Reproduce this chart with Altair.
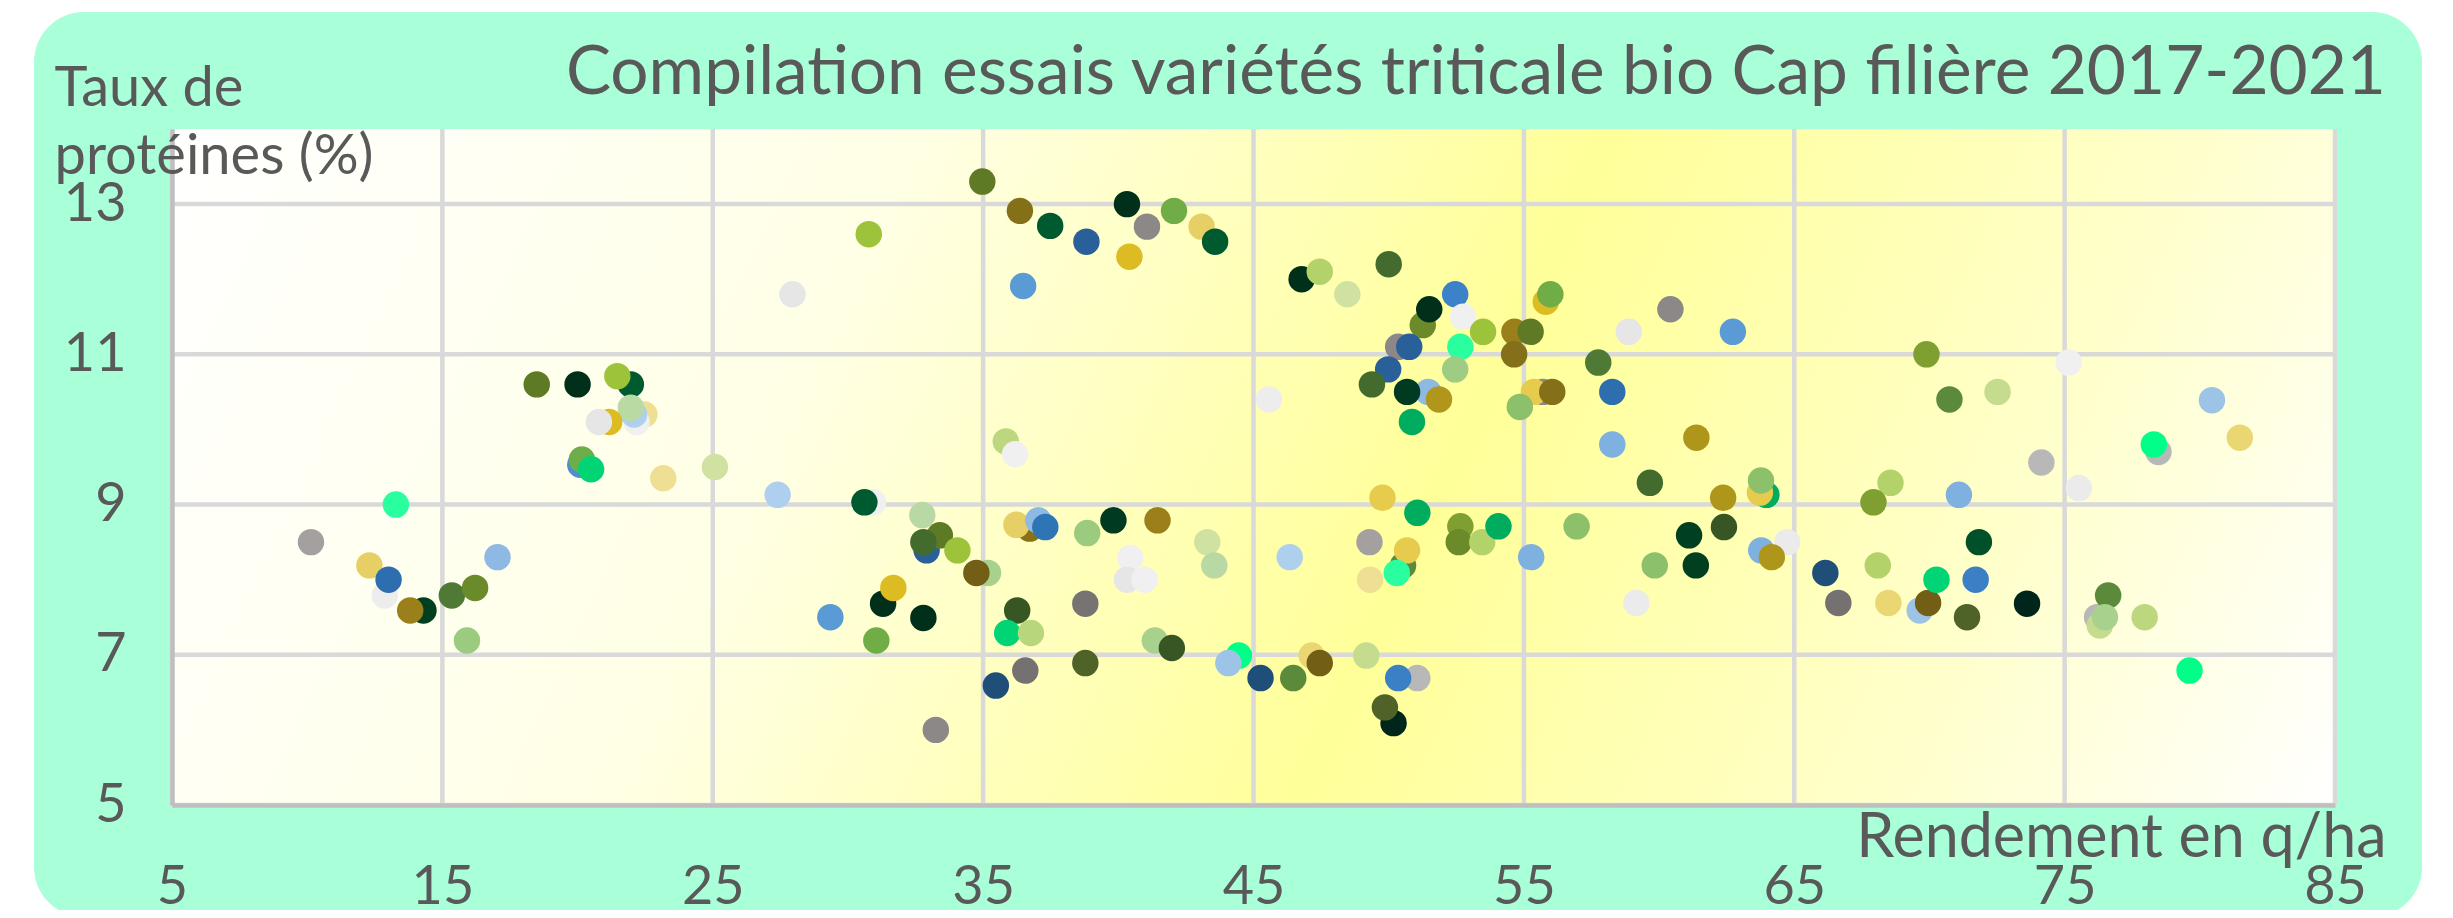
import altair as alt
import pandas as pd

# ---------------- data ----------------
rendement = [
    10.14, 13.28, 12.30, 12.87, 13.01, 14.30, 13.81, 15.35, 16.21, 15.91, 17.04,
    18.49, 20.00, 21.97, 21.47, 22.47, 22.18, 22.09, 21.97, 21.17, 20.79, 20.10, 20.16, 20.50,
    23.17, 25.08, 27.40, 27.95, 30.77, 30.93, 30.61,
    31.30, 31.68, 29.35, 31.05, 32.75, 32.91, 33.40, 32.79, 32.79, 34.05, 35.18, 34.75,
    36.72, 36.23, 37.04, 37.30, 38.85, 39.82, 41.45, 43.29, 43.55, 40.44, 40.32, 40.97,
    38.78, 36.26, 35.89, 36.77, 41.35, 41.98, 44.46, 44.07, 38.78, 36.56, 35.47, 33.25,
    34.97, 36.36, 37.48, 38.82, 40.32, 40.41, 41.06, 42.06, 43.08, 43.58, 36.48, 35.84, 36.18,
    46.78, 47.45, 48.47, 50.00, 51.26, 51.50, 52.46, 52.75, 53.49, 50.35, 50.76, 52.65,
    49.98, 49.38, 52.46, 51.46, 50.68, 51.86, 50.86, 45.57, 54.65, 55.25, 54.64, 55.81, 55.98,
    55.70, 55.37, 56.05, 54.85, 57.75, 58.27, 58.27, 58.88, 60.42, 62.73, 61.38,
    69.89, 70.74, 72.52, 75.15, 74.14, 80.45, 81.48, 78.47, 78.30, 75.53,
    71.83, 71.71, 73.61, 71.39, 76.20, 76.30, 76.61, 76.49, 77.96, 79.62,
    59.66, 62.37, 63.97, 63.73, 63.77, 61.11, 62.40, 61.36, 59.84, 59.16, 63.78, 64.74, 64.17,
    66.15, 66.63, 68.09, 68.56, 67.93, 68.48, 69.64, 69.95, 70.26, 71.09,
    45.26, 46.47, 47.15, 47.45, 49.17, 51.06, 50.35, 50.18, 49.86,
    46.34, 49.77, 51.06, 49.29, 50.53, 50.68, 50.30, 49.31, 52.65, 52.59, 53.46, 54.06, 55.27, 56.95,
]
proteines = [
    8.50, 9.00, 8.19, 7.79, 8.00, 7.59, 7.59, 7.79, 7.89, 7.19, 8.30,
    10.60, 10.60, 10.60, 10.71, 10.20, 10.10, 10.20, 10.29, 10.10, 10.10, 9.53, 9.60, 9.47,
    9.35, 9.50, 9.13, 11.80, 12.60, 9.03, 9.03,
    7.68, 7.89, 7.50, 7.19, 8.86, 8.39, 8.59, 8.50, 7.49, 8.39, 8.09, 8.09,
    8.68, 8.73, 8.79, 8.70, 8.62, 8.79, 8.79, 8.50, 8.19, 8.29, 8.00, 8.00,
    7.68, 7.59, 7.29, 7.29, 7.19, 7.09, 6.99, 6.89, 6.89, 6.79, 6.59, 6.00,
    13.30, 12.91, 12.71, 12.50, 13.00, 12.30, 12.70, 12.91, 12.70, 12.50, 11.91, 9.84, 9.67,
    12.00, 12.10, 11.80, 12.20, 11.39, 11.60, 11.80, 11.50, 11.30, 11.10, 11.10, 11.10,
    10.80, 10.60, 10.80, 10.50, 10.50, 10.40, 10.10, 10.40, 11.30, 11.30, 11.00, 11.70, 11.80,
    10.50, 10.50, 10.50, 10.30, 10.89, 10.50, 9.80, 11.30, 11.60, 11.30, 9.89,
    11.00, 10.40, 10.50, 10.89, 9.56, 10.39, 9.89, 9.70, 9.80, 9.22,
    8.50, 8.00, 7.68, 7.50, 7.50, 7.39, 7.79, 7.50, 7.50, 6.79,
    9.29, 9.09, 9.13, 9.16, 9.32, 8.59, 8.70, 8.19, 8.19, 7.69, 8.39, 8.50, 8.30,
    8.09, 7.69, 8.19, 9.29, 9.03, 7.69, 7.59, 7.69, 8.00, 9.13,
    6.69, 6.69, 6.99, 6.89, 6.99, 6.69, 6.69, 6.09, 6.30,
    8.30, 9.09, 8.89, 8.50, 8.19, 8.39, 8.09, 8.00, 8.71, 8.50, 8.50, 8.71, 8.30, 8.71,
]
couleurs = [
    "#A5A0A0", "#2AFF9F", "#E6D065", "#EDEDED", "#2E6EAE", "#003F20", "#9A7F1A", "#4E7A36", "#6B8A2A", "#9BCB7E", "#8DB9E3",
    "#5F7A25", "#00301A", "#005A30", "#9DC33B", "#EEDF94", "#F0F0F0", "#AFCFEF", "#B9DAA3", "#DDBB22", "#E6E6E6", "#4F8FD0", "#6DAE4A", "#00D474",
    "#EEDF94", "#CFE2A1", "#AFCFEF", "#E6E6E6", "#9DC33B", "#F0F0F0", "#005A30",
    "#00301A", "#DDBB22", "#5B9BD5", "#70AD47", "#B8D9A4", "#2A6099", "#5F7A25", "#436B2E", "#00301A", "#9DC33B", "#A9D18E", "#725E14",
    "#8A7214", "#E6D065", "#8DB9E3", "#2E75B6", "#9BCB7E", "#003A20", "#9A7F1A", "#CFE2A1", "#B8D9A4", "#F0F0F0", "#E6E6E6", "#F0F0F0",
    "#787373", "#375623", "#00D474", "#B8D67C", "#A9D18E", "#375623", "#00FF88", "#9DC3E6", "#4F6228", "#767171", "#1F4E79", "#8C8888",
    "#5F7A25", "#85701A", "#005A30", "#2A6099", "#00301A", "#DDBB22", "#8C8888", "#70AD47", "#E6D065", "#005A30", "#5B9BD5", "#BDD77E", "#F0F0F0",
    "#00301A", "#B3D26A", "#CFE2A1", "#436B2E", "#6B8A2A", "#00301A", "#3B82C8", "#F0F0F0", "#9DC33B", "#8C8888", "#2A6099", "#2AFF9F",
    "#2A6099", "#436B2E", "#9DCC82", "#8DB9E3", "#003A20", "#B0961A", "#00AD5F", "#EDEDED", "#9A7F1A", "#5F7A25", "#85701A", "#DDBB22", "#70AD47",
    "#8C8888", "#E6CB4D", "#85701A", "#8DC06A", "#4E7A36", "#2E6EAE", "#7EB0E0", "#E6E6E6", "#8C8888", "#5B9BD5", "#AE961A",
    "#7FA030", "#5A8A3A", "#C5DC8E", "#F0F0F0", "#B8B8B8", "#9DC3E6", "#EAD773", "#B8B8B8", "#00FF88", "#EBEBEB",
    "#00502A", "#3B80C4", "#00251A", "#4F6228", "#B8B8B8", "#C5DC8E", "#5A8A3A", "#A9D18E", "#BDD77E", "#00FF88",
    "#436B2E", "#AE961A", "#00AD5F", "#E6CB4D", "#8DC06A", "#003F20", "#375623", "#003F20", "#8DC06A", "#EBEBEB", "#7EB0E0", "#EBEBEB", "#AE961A",
    "#1F4E79", "#767171", "#B3D26A", "#B3D26A", "#7FA030", "#EAD773", "#9DC3E6", "#725E14", "#00D474", "#7EB0E0",
    "#1F4E79", "#5A8A3A", "#EAD773", "#725E14", "#C5DC8E", "#B8B8B8", "#3B80C4", "#00251A", "#4F6228",
    "#AFCFEF", "#E6CB4D", "#00AD5F", "#A5A0A0", "#5A8A3A", "#E6CB4D", "#2AFF9F", "#EEDF94", "#7FA030", "#6B8A2A", "#B3D26A", "#00AD5F", "#7EB0E0", "#8DC06A",
]

x_ticks = [5, 15, 25, 35, 45, 55, 65, 75, 85]
y_ticks = [5, 7, 9, 11, 13]
x_domain = [5, 85]
y_domain = [5, 14]

titre = "Compilation essais variétés triticale bio Cap filière 2017-2021"
titre_x = "Rendement en q/ha"
titre_y = ["Taux de", "protéines (%)"]

# ---------------- styling ----------------
W, H = 2163, 676
FONT = "Lato"
TXT = "#595959"
GRID = "#D9D9D9"
AXIS = "#BFBFBF"

df = pd.DataFrame({
    "rendement": rendement,
    "proteines": proteines,
    "couleur": couleurs,
    "ordre": list(range(len(rendement))),
})

xs = alt.Scale(domain=x_domain, nice=False, zero=False)
ys = alt.Scale(domain=y_domain, nice=False, zero=False)

axis_x = alt.Axis(
    values=x_ticks, grid=False, ticks=False, tickSize=0,
    domainColor=AXIS, domainWidth=4.5,
    labelFont=FONT, labelFontSize=54, labelColor=TXT, labelPadding=55,
    labelFlush=False, labelOverlap=False,
    title=titre_x, titleFont=FONT, titleFontSize=61, titleFontWeight="normal",
    titleColor=TXT, titleAlign="right", titleBaseline="alphabetic",
    titleX=2214, titleY=51, zindex=1,
)
axis_y = alt.Axis(
    values=y_ticks, grid=False, ticks=False, tickSize=0,
    domainColor=AXIS, domainWidth=4.5,
    labelFont=FONT, labelFontSize=54, labelColor=TXT, labelPadding=46,
    labelOverlap=False,
    title=titre_y, titleFont=FONT, titleFontSize=56, titleFontWeight="normal",
    titleColor=TXT, titleAngle=0, titleAlign="left", titleBaseline="alphabetic",
    titleX=-118, titleY=-24, titleLineHeight=68, zindex=1,
)

frame = alt.Chart(pd.DataFrame({"k": [0]})).mark_rect(
    fill="#A9FFD8", cornerRadius=50
).encode(
    x=alt.value(-138), x2=alt.value(2250), y=alt.value(-117), y2=alt.value(788)
)

grad = alt.LinearGradient(
    gradient="linear",
    stops=[
        alt.GradientStop(color="#FFFFFF", offset=0),
        alt.GradientStop(color="#FFFFE6", offset=0.3),
        alt.GradientStop(color="#FFFF99", offset=0.58),
        alt.GradientStop(color="#FFFFCC", offset=0.82),
        alt.GradientStop(color="#FFFFFF", offset=1),
    ],
    x1=0, y1=0, x2=1.121, y2=0.163,
)

bg = alt.Chart(pd.DataFrame({"x0": [x_domain[0]], "x1": [x_domain[1]],
                             "y0": [y_domain[0]], "y1": [y_domain[1]]})).mark_rect(
    fill=grad
).encode(
    x=alt.X("x0:Q", scale=xs, axis=axis_x), x2="x1:Q",
    y=alt.Y("y0:Q", scale=ys, axis=axis_y), y2="y1:Q",
)

vgrid = alt.Chart(pd.DataFrame({"gx": x_ticks})).mark_rule(
    color=GRID, strokeWidth=4.5
).encode(x=alt.X("gx:Q", scale=xs, axis=axis_x))

hgrid = alt.Chart(pd.DataFrame({"gy": y_ticks})).mark_rule(
    color=GRID, strokeWidth=4.5
).encode(y=alt.Y("gy:Q", scale=ys, axis=axis_y))

points = alt.Chart(df).mark_circle(size=700, opacity=1).encode(
    x=alt.X("rendement:Q", scale=xs, axis=axis_x),
    y=alt.Y("proteines:Q", scale=ys, axis=axis_y),
    color=alt.Color("couleur:N", scale=None),
    order=alt.Order("ordre:Q"),
)

title_mark = alt.Chart(pd.DataFrame({"t": [titre]})).mark_text(
    align="right", baseline="alphabetic", font=FONT, fontSize=67.5, color=TXT
).encode(text="t:N", x=alt.value(2214), y=alt.value(-35))

chart = alt.layer(frame, bg, vgrid, hgrid, points, title_mark).properties(
    width=W, height=H,
    autosize=alt.AutoSizeParams(type="none"),
    padding={"left": 164, "top": 121, "right": 110, "bottom": 105},
    background="white",
).configure_view(stroke=None)

chart.save("out.html", embed_options={"renderer": "svg", "actions": False})
